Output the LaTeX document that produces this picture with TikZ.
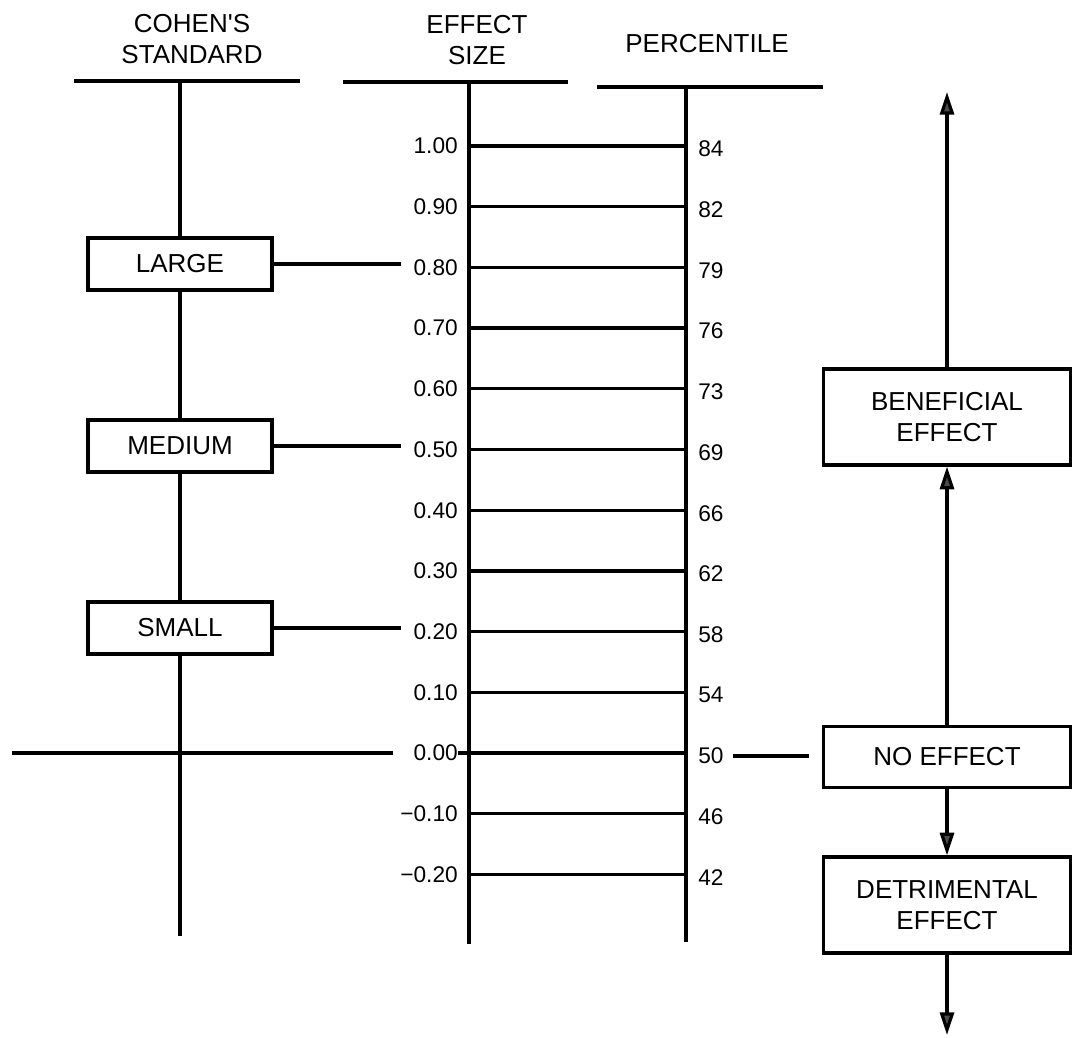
\documentclass[tikz,border=0pt]{standalone}
\usepackage{fontspec}
\setmainfont{Liberation Sans}
\usetikzlibrary{arrows.meta}
\begin{document}
\begin{tikzpicture}[x=0.75pt,y=-0.75pt,
  ln/.style={line width=2.4pt},
  lbl/.style={font=\fontsize{19.5}{23.5}\selectfont, align=center, inner sep=0pt},
  num/.style={font=\fontsize{17}{20}\selectfont, inner sep=0pt},
  box/.style={draw, line width=2.4pt, fill=white, font=\fontsize{19.5}{23.5}\selectfont, align=center, inner sep=0pt},
  cbox/.style={box, minimum width=138pt, minimum height=39pt},
  rbox/.style={box, minimum width=185pt},
  tip/.style={-{Triangle[length=17pt,width=10.5pt,fill=black!70]}},
]
\useasboundingbox (0,0) rectangle (1076,1038);

% headers
\node[lbl] (hcohen) at (192,39) {COHEN\textquotesingle S\\STANDARD};
\node[lbl] (heffect) at (477,40) {EFFECT\\SIZE};
\node[lbl] (hperc) at (707,44) {PERCENTILE};
\draw[ln] (74,81) -- (300,81);
\draw[ln] (343,82) -- (568,82);
\draw[ln] (597,87) -- (823,87);

% axes
\draw[ln] (180,81) -- (180,936);
\draw[ln] (469,82) -- (469,944);
\draw[ln] (686,87) -- (686,942);

% ticks and labels
\foreach \k/\e/\p in {0/1.00/84, 1/0.90/82, 2/0.80/79, 3/0.70/76, 4/0.60/73, 5/0.50/69, 6/0.40/66, 7/0.30/62, 8/0.20/58, 9/0.10/54, 10/0.00/50, 11/−0.10/46, 12/−0.20/42} {
  \pgfmathsetmacro\yy{146+60.7*\k}
  \node[num, anchor=east] (e\k) at (458,\yy) {\e};
  \node[num, anchor=west] (p\k) at (698,\yy+3) {\p};
  \coordinate (a\k) at (469,\yy);
  \coordinate (b\k) at (686,\yy);
  \draw[ln] (a\k) -- (b\k);
}

% Cohen's boxes
\node[cbox] (large) at (180,264) {LARGE};
\node[cbox] (medium) at (180,446) {MEDIUM};
\node[cbox] (small) at (180,628) {SMALL};
\draw[ln] (large.east) -- ([xshift=-9pt]large.east -| e2.west);
\draw[ln] (medium.east) -- ([xshift=-9pt]medium.east -| e5.west);
\draw[ln] (small.east) -- ([xshift=-9pt]small.east -| e8.west);

% zero line
\coordinate (zleft) at (12,753);
\draw[ln] (zleft) -- ([xshift=-15pt]zleft -| e10.west);
\draw[ln] (e10.east) -- (a10);

% right column
\node[rbox, minimum height=72pt] (benef) at (947,417) {BENEFICIAL\\EFFECT};
\node[rbox, minimum height=46pt] (noeff) at (947,757) {NO EFFECT};
\node[rbox, minimum height=72pt] (detr) at (947,905) {DETRIMENTAL\\EFFECT};
\coordinate (uptip) at (947,92);
\coordinate (downtip) at (947,1035);
\draw[ln] ([xshift=7pt]p10.east) -- ([xshift=-10pt]p10.east -| noeff.west);
\draw[ln,tip] (benef.north) -- (uptip);
\draw[ln,tip] (noeff.north) -- (benef.south);
\draw[ln,tip] (noeff.south) -- (detr.north);
\draw[ln,tip] (detr.south) -- (downtip);
\end{tikzpicture}
\end{document}
